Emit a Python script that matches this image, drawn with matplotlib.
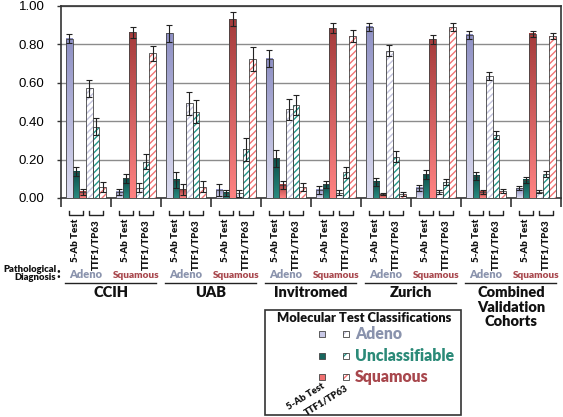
import numpy as np
import matplotlib
matplotlib.use('Agg')
import matplotlib.pyplot as plt
import matplotlib.transforms as mtransforms
from matplotlib.colors import LinearSegmentedColormap
from matplotlib.patches import Rectangle
from matplotlib.lines import Line2D

plt.rcParams['font.family'] = ['Lato', 'DejaVu Sans']
plt.rcParams['hatch.linewidth'] = 1.0

# cohort x diagnosis groups, in drawing order
cohorts = ['CCIH', 'UAB', 'Invitromed', 'Zurich', 'Combined\nValidation\nCohorts']
diagnoses = ['Adeno', 'Squamous']
tests = ['5-Ab Test', 'TTF1/TP63']

# fraction of samples per molecular class (10 groups: cohort x pathological diagnosis)
ab5_adeno = [0.830, 0.033, 0.857, 0.042, 0.726, 0.042, 0.892, 0.054, 0.849, 0.050]
ab5_unclass = [0.137, 0.102, 0.094, 0.028, 0.207, 0.071, 0.085, 0.123, 0.116, 0.094]
ab5_squam = [0.033, 0.863, 0.045, 0.932, 0.068, 0.885, 0.019, 0.826, 0.033, 0.856]
ttf_adeno = [0.571, 0.054, 0.493, 0.024, 0.462, 0.028, 0.767, 0.033, 0.635, 0.033]
ttf_unclass = [0.371, 0.190, 0.450, 0.254, 0.484, 0.134, 0.215, 0.082, 0.328, 0.125]
ttf_squam = [0.056, 0.753, 0.059, 0.724, 0.059, 0.844, 0.019, 0.892, 0.038, 0.844]

ab5_adeno_err = [0.025, 0.015, 0.045, 0.030, 0.045, 0.020, 0.020, 0.015, 0.020, 0.010]
ab5_unclass_err = [0.025, 0.025, 0.040, 0.015, 0.045, 0.020, 0.020, 0.025, 0.020, 0.015]
ab5_squam_err = [0.015, 0.030, 0.030, 0.035, 0.020, 0.025, 0.005, 0.025, 0.010, 0.015]
ttf_adeno_err = [0.045, 0.025, 0.060, 0.020, 0.055, 0.012, 0.030, 0.010, 0.020, 0.008]
ttf_unclass_err = [0.045, 0.040, 0.060, 0.060, 0.050, 0.030, 0.030, 0.015, 0.020, 0.015]
ttf_squam_err = [0.025, 0.040, 0.030, 0.060, 0.020, 0.030, 0.010, 0.020, 0.010, 0.015]

# colours
grad_adeno = ('#dcdcf0', '#8e90c4')     # bottom, top
grad_unclass = ('#2a8a80', '#0b4f49')
grad_squam = ('#ff8282', '#a53c3c')
hatch_adeno = '#c4c4de'
hatch_unclass = '#23978a'
hatch_squam = '#f27474'
edge = '#444444'
adeno_txt = '#8a93ad'
unclass_txt = '#2b8a78'
squam_txt = '#a8474d'
BOLD = 'heavy'

W, H = 563, 417
fig = plt.figure(figsize=(W / 100, H / 100), dpi=100)
ax = fig.add_axes([61 / W, 1 - 198 / H, 500 / W, 192 / H])

n = len(ab5_adeno)
base = np.arange(n)
bw = 0.8 / 6


def grad_bars(xs, vals, errs, cols):
    bars = ax.bar(xs, vals, bw, facecolor='none', edgecolor=edge, linewidth=0.6, zorder=4)
    cmap = LinearSegmentedColormap.from_list('g', list(cols))
    g = np.linspace(0, 1, 64).reshape(-1, 1)
    for b in bars:
        x0 = b.get_x()
        ax.imshow(g, extent=[x0, x0 + b.get_width(), 0, b.get_height()], origin='lower',
                  aspect='auto', cmap=cmap, zorder=3, interpolation='bilinear')
    ax.errorbar(xs, vals, yerr=errs, fmt='none', ecolor='#222222', elinewidth=0.8,
                capsize=2, capthick=0.8, zorder=5)


def hatch_bars(xs, vals, errs, hc):
    ax.bar(xs, vals, bw, facecolor='white', edgecolor=hc, hatch='/////', linewidth=0, zorder=3)
    ax.bar(xs, vals, bw, facecolor='none', edgecolor=edge, linewidth=0.6, zorder=4)
    ax.errorbar(xs, vals, yerr=errs, fmt='none', ecolor='#222222', elinewidth=0.8,
                capsize=2, capthick=0.8, zorder=5)


pos = [base + 0.1 + (k + 0.5) * bw for k in range(6)]
grad_bars(pos[0], ab5_adeno, ab5_adeno_err, grad_adeno)
grad_bars(pos[1], ab5_unclass, ab5_unclass_err, grad_unclass)
grad_bars(pos[2], ab5_squam, ab5_squam_err, grad_squam)
hatch_bars(pos[3], ttf_adeno, ttf_adeno_err, hatch_adeno)
hatch_bars(pos[4], ttf_unclass, ttf_unclass_err, hatch_unclass)
hatch_bars(pos[5], ttf_squam, ttf_squam_err, hatch_squam)

ax.set_xlim(0, n)
ax.set_ylim(0, 1)
ax.set_yticks(np.arange(0, 1.01, 0.2))
ax.set_yticklabels(['%.2f' % v for v in np.arange(0, 1.01, 0.2)],
                   fontfamily='Liberation Sans', fontsize=9.5)
ax.yaxis.grid(True, color='#8c8c8c', linewidth=1.0, zorder=0)
ax.set_axisbelow(True)
ax.tick_params(axis='y', length=3, width=1.0, pad=9, color='#333333')
ax.set_xticks(np.arange(0, n + 1))
ax.set_xticklabels([])
ax.tick_params(axis='x', length=6.5, width=1.2, direction='out', color='#333333')
for s in ax.spines.values():
    s.set_color('#333333')
    s.set_linewidth(1.2)

# labels under the axis
tr = mtransforms.blended_transform_factory(ax.transData, fig.transFigure)


def fy(py):
    return 1 - py / H


for i in range(n):
    for j, t in enumerate(tests):
        cx = i + 0.3 + 0.4 * j
        ax.add_line(Line2D([cx - 0.14, cx - 0.14, cx + 0.14, cx + 0.14],
                           [fy(211), fy(215), fy(215), fy(211)], transform=tr,
                           color='#222222', lw=1.0, clip_on=False))
        ax.text(cx, fy(219), t, transform=tr, rotation=90, ha='center', va='top',
                fontsize=7, fontweight=BOLD, color='#111111')
    d = diagnoses[i % 2]
    ax.text(i + 0.5, fy(275), d, transform=tr, ha='center', va='center',
            fontsize=8 if d == 'Adeno' else 7.2, fontweight=BOLD,
            color=adeno_txt if d == 'Adeno' else squam_txt)

for c, name in enumerate(cohorts):
    ax.add_line(Line2D([2 * c + 0.08, 2 * c + 1.9], [fy(283), fy(283)], transform=tr,
                       color='#222222', lw=1.0, clip_on=False))
    ax.text(2 * c + 1, fy(286), name, transform=tr, ha='center', va='top',
            fontsize=10.5, fontweight=BOLD, color='#111111', linespacing=1.15)

fig.text(56 / W, fy(269), 'Pathological', ha='right', va='center', fontsize=6.8,
         fontweight=BOLD, color='#111111')
fig.text(56 / W, fy(278), 'Diagnosis', ha='right', va='center', fontsize=6.8,
         fontweight=BOLD, color='#111111')
fig.text(56.5 / W, fy(273), ':', ha='left', va='center', fontsize=10,
         fontweight=BOLD, color='#111111')

# legend box
fig.add_artist(Rectangle((265 / W, fy(415)), 196 / W, 105 / H, transform=fig.transFigure,
                         facecolor='white', edgecolor='#333333', lw=1.2))
fig.text(364 / W, fy(318), 'Molecular Test Classifications', ha='center', va='center',
         fontsize=9.3, fontweight=BOLD, color='#111111')
leg_rows = [('Adeno', '#c8c8e6', hatch_adeno, adeno_txt, 334),
            ('Unclassifiable', '#17665e', hatch_unclass, unclass_txt, 356),
            ('Squamous', '#f07070', hatch_squam, squam_txt, 377)]
sq = 6
for lab, fc, hc, tc, py in leg_rows:
    fig.add_artist(Rectangle((319 / W, fy(py + sq / 2)), sq / W, sq / H,
                             transform=fig.transFigure, facecolor=fc, edgecolor=edge, lw=0.6))
    fig.add_artist(Rectangle((343 / W, fy(py + sq / 2)), sq / W, sq / H,
                             transform=fig.transFigure, facecolor='white', edgecolor=hc,
                             hatch='///', lw=0))
    fig.add_artist(Rectangle((343 / W, fy(py + sq / 2)), sq / W, sq / H,
                             transform=fig.transFigure, facecolor='none', edgecolor=edge, lw=0.6))
    fig.text(355 / W, fy(py), lab, ha='left', va='center', fontsize=11.3,
             fontweight=BOLD, color=tc)
fig.text(306 / W, fy(397), '5-Ab Test', ha='center', va='center', rotation=32,
         fontsize=6.8, fontweight=BOLD, color='#111111')
fig.text(326 / W, fy(400), 'TTF1/TP63', ha='center', va='center', rotation=32,
         fontsize=6.8, fontweight=BOLD, color='#111111')

fig.savefig('out.png', dpi=100)
